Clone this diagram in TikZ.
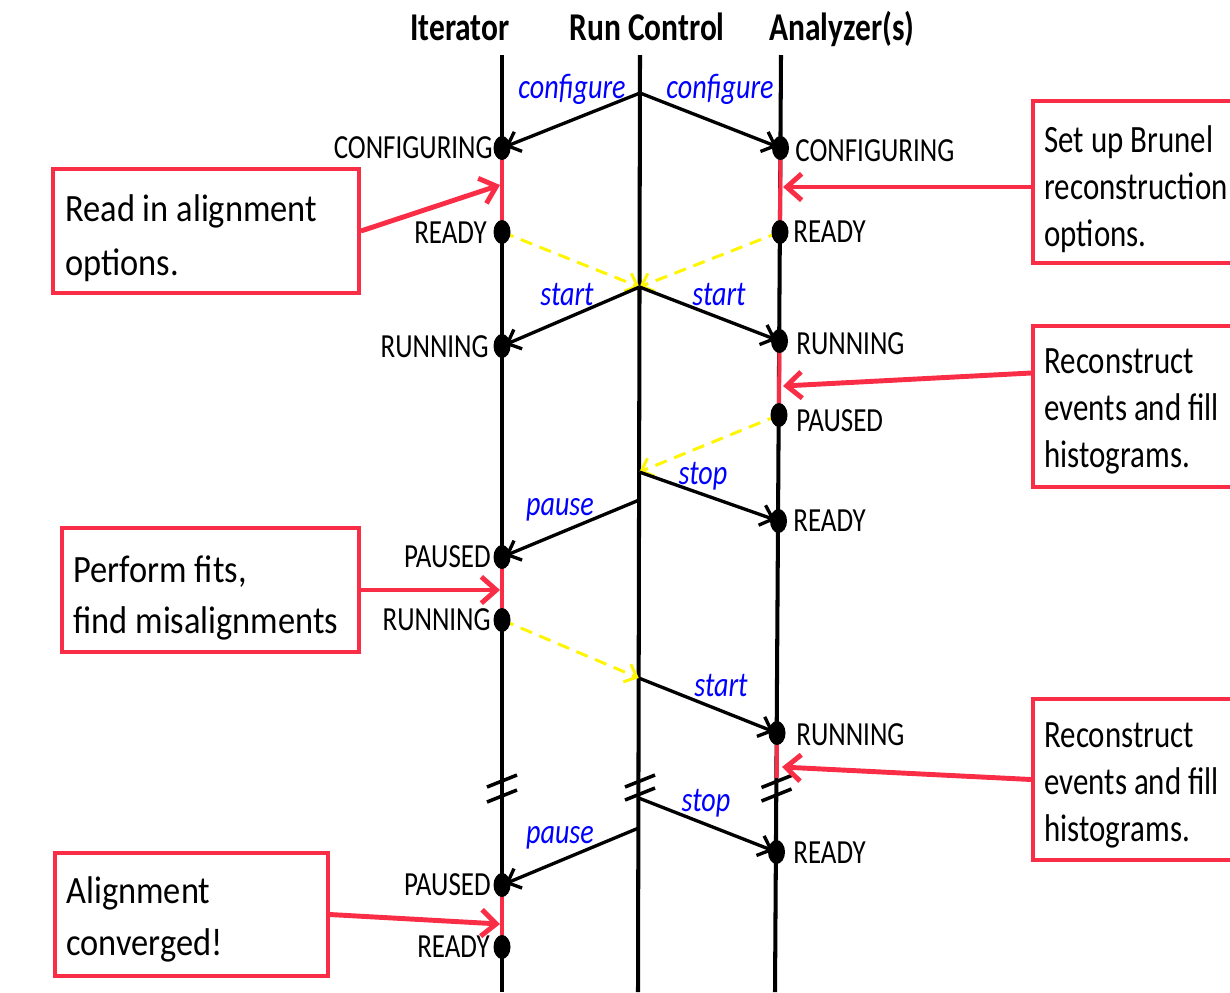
\documentclass[tikz,border=0pt]{standalone}
\usepackage{fontspec}
\setmainfont[FakeStretch=0.8]{Carlito}
\newfontfamily\wideff[FakeStretch=0.89]{Carlito}
\usetikzlibrary{arrows.meta,shapes.geometric,backgrounds,calc}
\definecolor{boxred}{RGB}{250,45,70}
\definecolor{cmdblue}{RGB}{0,0,255}
\definecolor{dyellow}{RGB}{255,245,0}
\tikzset{
  lifeline/.style={line width=2.3pt, black},
  redseg/.style={line width=2.3pt, boxred},
  msg/.style={line width=1.9pt, black, -{Straight Barb[length=6.5pt,width=12pt]}, shorten >=2pt},
  ymsg/.style={line width=1.7pt, dyellow, dash pattern=on 7pt off 4.5pt, -{Straight Barb[length=6pt,width=11pt]}},
  dot/.style={ellipse, fill=black, minimum width=0.34cm, minimum height=0.48cm, inner sep=0pt},
  state/.style={font=\fontsize{19.2}{21}\selectfont, inner sep=0pt},
  cmd/.style={font=\fontsize{20}{22}\selectfont\itshape, text=cmdblue, inner sep=0pt, anchor=base},
  hdr/.style={font=\fontsize{22.4}{24}\selectfont\bfseries, inner sep=0pt, anchor=base},
  notebox/.style={draw=boxred, line width=2.2pt, inner sep=0pt},
  ltext/.style={align=flush left, inner sep=0pt, anchor=west, font=\wideff\fontsize{22}{31}\selectfont},
  rtext/.style={align=flush left, inner sep=0pt, anchor=west, font=\fontsize{22}{26.7}\selectfont},
  redarrow/.style={boxred, line width=2.8pt, -{Straight Barb[length=8.5pt,width=15pt]}},
  brk/.style={line width=2pt, black}
}
\begin{document}
\begin{tikzpicture}[x=0.02cm,y=-0.02cm]
\clip (0,0) rectangle (1230,992);

% headers
\node[hdr] (hIt) at (460,40) {Iterator};
\node[hdr] (hRC) at (647,40) {Run Control};
\node[hdr] (hAn) at (842,40) {Analyzer(s)};

% lifeline ends
\coordinate (itop) at (502,55);
\coordinate (ibot) at (502,992);
\coordinate (ctop) at (640,55);
\coordinate (cbot) at (638,992);
\coordinate (atop) at (781,55);
\coordinate (abot) at (775,992);

% run control points
\coordinate (c1) at (640,93);
\coordinate (c2) at (639.5,287);
\coordinate (c3) at (639.3,472);
\coordinate (c4) at (639.2,500);
\coordinate (c5) at (638.8,678);
\coordinate (c6) at (638.7,798);
\coordinate (c7) at (638.6,828);

% dots iterator
\node[dot] (i1) at (502,148) {};
\node[dot] (i2) at (502,232) {};
\node[dot] (i3) at (502,346) {};
\node[dot] (i4) at (502,557) {};
\node[dot] (i5) at (502,620) {};
\node[dot] (i6) at (502,885) {};
\node[dot] (i7) at (502,947) {};
% dots analyzer
\node[dot] (a1) at (780.5,148) {};
\node[dot] (a2) at (780,232) {};
\node[dot] (a3) at (779.5,341) {};
\node[dot] (a4) at (779,415) {};
\node[dot] (a5) at (778.5,521) {};
\node[dot] (a6) at (777,733) {};
\node[dot] (a7) at (776.5,852) {};

\begin{pgfonlayer}{background}
\draw[lifeline] (itop) -- (ibot);
\draw[lifeline] (ctop) -- (cbot);
\draw[lifeline] (atop) -- (abot);
\draw[redseg] (i1.center) -- (i2.center);
\draw[redseg] (i4.center) -- (i5.center);
\draw[redseg] (i6.center) -- (i7.center);
\draw[redseg] (a1.center) -- (a2.center);
\draw[redseg] (a3.center) -- (a4.center);
\coordinate (a6b) at (776.7,778);
\draw[redseg] (a6.center) -- (a6b);

\draw[msg] (c1) -- (i1.center);
\draw[msg] (c1) -- (a1.center);
\draw[ymsg] (i2.center) -- (c2);
\draw[ymsg] (a2.center) -- (c2);
\draw[msg] (c2) -- (i3.center);
\draw[msg] (c2) -- (a3.center);
\draw[ymsg] (a4.center) -- (c3);
\draw[msg] (c3) -- (a5.center);
\draw[msg] (c4) -- (i4.center);
\draw[ymsg] (i5.center) -- (c5);
\draw[msg] (c5) -- (a6.center);
\draw[msg] (c6) -- (a7.center);
\draw[msg] (c7) -- (i6.center);
\end{pgfonlayer}

% breaks
\draw[brk] (502,781) ++(-15,6) -- ++(30,-12);
\draw[brk] (502,796) ++(-15,6) -- ++(30,-12);
\draw[brk] (640,781) ++(-15,6) -- ++(30,-12);
\draw[brk] (640,794) ++(-15,6) -- ++(30,-12);
\draw[brk] (776.5,781.5) ++(-15,6) -- ++(30,-12);
\draw[brk] (776.5,795) ++(-15,6) -- ++(30,-12);

% command labels
\node[cmd] (l1) at (572,98) {configure};
\node[cmd] (l2) at (720,98) {configure};
\node[cmd] (l3) at (567,305) {start};
\node[cmd] (l4) at (719,305) {start};
\node[cmd] (l5) at (703,484) {stop};
\node[cmd] (l6) at (560,515) {pause};
\node[cmd] (l7) at (721,696) {start};
\node[cmd] (l8) at (706,811) {stop};
\node[cmd] (l9) at (560,843) {pause};

% state labels iterator
\node[state, anchor=east] (si1) at (493,148) {CONFIGURING};
\node[state, anchor=east] (si2) at (487,233) {READY};
\node[state, anchor=east] (si3) at (489,347) {RUNNING};
\node[state, anchor=east] (si4) at (491,557) {PAUSED};
\node[state, anchor=east] (si5) at (491,620) {RUNNING};
\node[state, anchor=east] (si6) at (491,885) {PAUSED};
\node[state, anchor=east] (si7) at (490,947) {READY};
% state labels analyzer
\node[state, anchor=west] (sa1) at (795,151) {CONFIGURING};
\node[state, anchor=west] (sa2) at (793,232) {READY};
\node[state, anchor=west] (sa3) at (796,344) {RUNNING};
\node[state, anchor=west] (sa4) at (796,421) {PAUSED};
\node[state, anchor=west] (sa5) at (793,521) {READY};
\node[state, anchor=west] (sa6) at (796,735) {RUNNING};
\node[state, anchor=west] (sa7) at (793,853) {READY};

% note boxes
\node[notebox, minimum width=6.12cm, minimum height=2.48cm] (b1) at (206,231) {};
\node[notebox, minimum width=4.8cm, minimum height=3.24cm] (b2) at (1153,182) {};
\node[notebox, minimum width=4.8cm, minimum height=3.22cm] (b3) at (1153,406.5) {};
\node[notebox, minimum width=5.94cm, minimum height=2.48cm] (b4) at (210.5,590) {};
\node[notebox, minimum width=4.8cm, minimum height=3.22cm] (b5) at (1153,779.5) {};
\node[notebox, minimum width=5.46cm, minimum height=2.46cm] (b6) at (191.5,914.5) {};
% note texts
\node[ltext] (n1) at ($(b1.west)+(14,7)$) {Read in alignment\\options.};
\node[rtext] (n2) at ($(b2.west)+(13,7)$) {Set up Brunel\\reconstruction\\options.};
\node[rtext] (n3) at ($(b3.west)+(13,5)$) {Reconstruct\\events and fill\\histograms.};
\node[ltext, font=\wideff\fontsize{22}{29.5}\selectfont] (n4) at ($(b4.west)+(13,8)$) {Perform fits,\\find misalignments};
\node[rtext] (n5) at ($(b5.west)+(13,6)$) {Reconstruct\\events and fill\\histograms.};
\node[ltext, font=\wideff\fontsize{22}{29.5}\selectfont] (n6) at ($(b6.west)+(13,5)$) {Alignment\\converged!};

% red arrows
\coordinate (t1) at (500,185);
\coordinate (t2) at (783,187);
\coordinate (t3) at (783,386);
\coordinate (t4) at (500,590);
\coordinate (t5) at (782,767);
\coordinate (t6) at (500,924);
\draw[redarrow] (b1.east) -- (t1);
\draw[redarrow] (b2.west |- t2) -- (t2);
\draw[redarrow] ($(b3.west)+(0,-33.5)$) -- (t3);
\draw[redarrow] (b4.east) -- (t4);
\draw[redarrow] (b5.west) -- (t5);
\draw[redarrow] (b6.east) -- (t6);
\end{tikzpicture}
\end{document}
